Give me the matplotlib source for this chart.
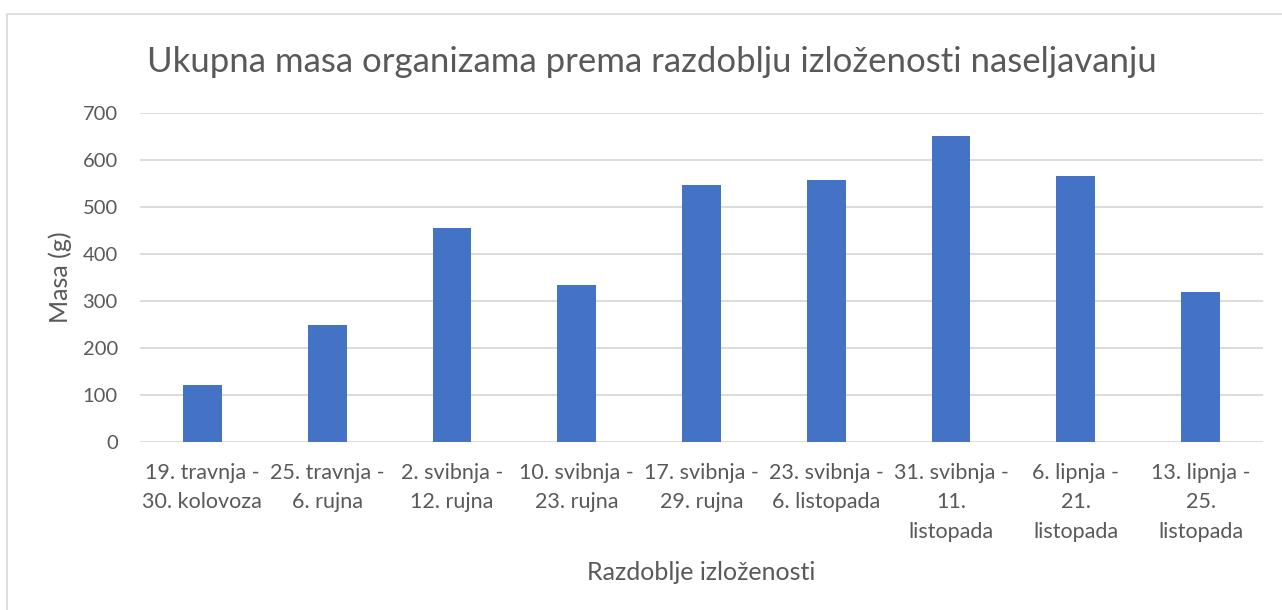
import matplotlib.pyplot as plt
from matplotlib.patches import Rectangle

# data
periods = [
    "19. travnja -\n30. kolovoza",
    "25. travnja -\n6. rujna",
    "2. svibnja -\n12. rujna",
    "10. svibnja -\n23. rujna",
    "17. svibnja -\n29. rujna",
    "23. svibnja -\n6. listopada",
    "31. svibnja -\n11.\nlistopada",
    "6. lipnja -\n21.\nlistopada",
    "13. lipnja -\n25.\nlistopada",
]
mass_g = [122, 250, 455, 334, 546, 558, 652, 565, 320]
y_ticks = [0, 100, 200, 300, 400, 500, 600, 700]

TEXT = "#595959"
GRID = "#D9D9D9"
BAR = "#4472C4"

plt.rcParams["font.family"] = ["Lato", "DejaVu Sans"]

fig = plt.figure(figsize=(12.82, 6.10), dpi=100)
ax = fig.add_axes([140 / 1282, 1 - 442 / 610, (1263 - 140) / 1282, (442 - 113) / 610])

x = list(range(len(periods)))
ax.bar(x, mass_g, width=0.31, color=BAR, zorder=3)

ax.set_ylim(0, 700)
ax.set_xlim(-0.5, len(periods) - 0.5)
ax.set_yticks(y_ticks)
ax.set_yticklabels([str(v) for v in y_ticks])
ax.set_xticks(x)
ax.set_xticklabels(periods, linespacing=1.6)
ax.tick_params(axis="both", length=0, colors=TEXT)
ax.tick_params(axis="x", labelsize=15.5, pad=15)
ax.tick_params(axis="y", labelsize=14.5, pad=16)
ax.grid(axis="y", color=GRID, linewidth=1.3, zorder=0)
for s in ax.spines.values():
    s.set_visible(False)

fig.text(60 / 1282, 1 - 277 / 610, "Masa (g)", fontsize=18, color=TEXT,
         rotation=90, ha="center", va="center")
fig.text(701 / 1282, 1 - 572 / 610, "Razdoblje izloženosti", fontsize=18,
         color=TEXT, ha="center", va="center")
fig.text(652 / 1282, 1 - 62 / 610,
         "Ukupna masa organizama prema razdoblju izloženosti naseljavanju",
         fontsize=25, color=TEXT, ha="center", va="center")

# chart border
fig.patches.append(Rectangle((7 / 1282, -0.05), 1.1, 1 - 14 / 610 + 0.05,
                             transform=fig.transFigure, fill=False,
                             edgecolor=GRID, linewidth=1.2))

fig.savefig("out.png", dpi=100)
